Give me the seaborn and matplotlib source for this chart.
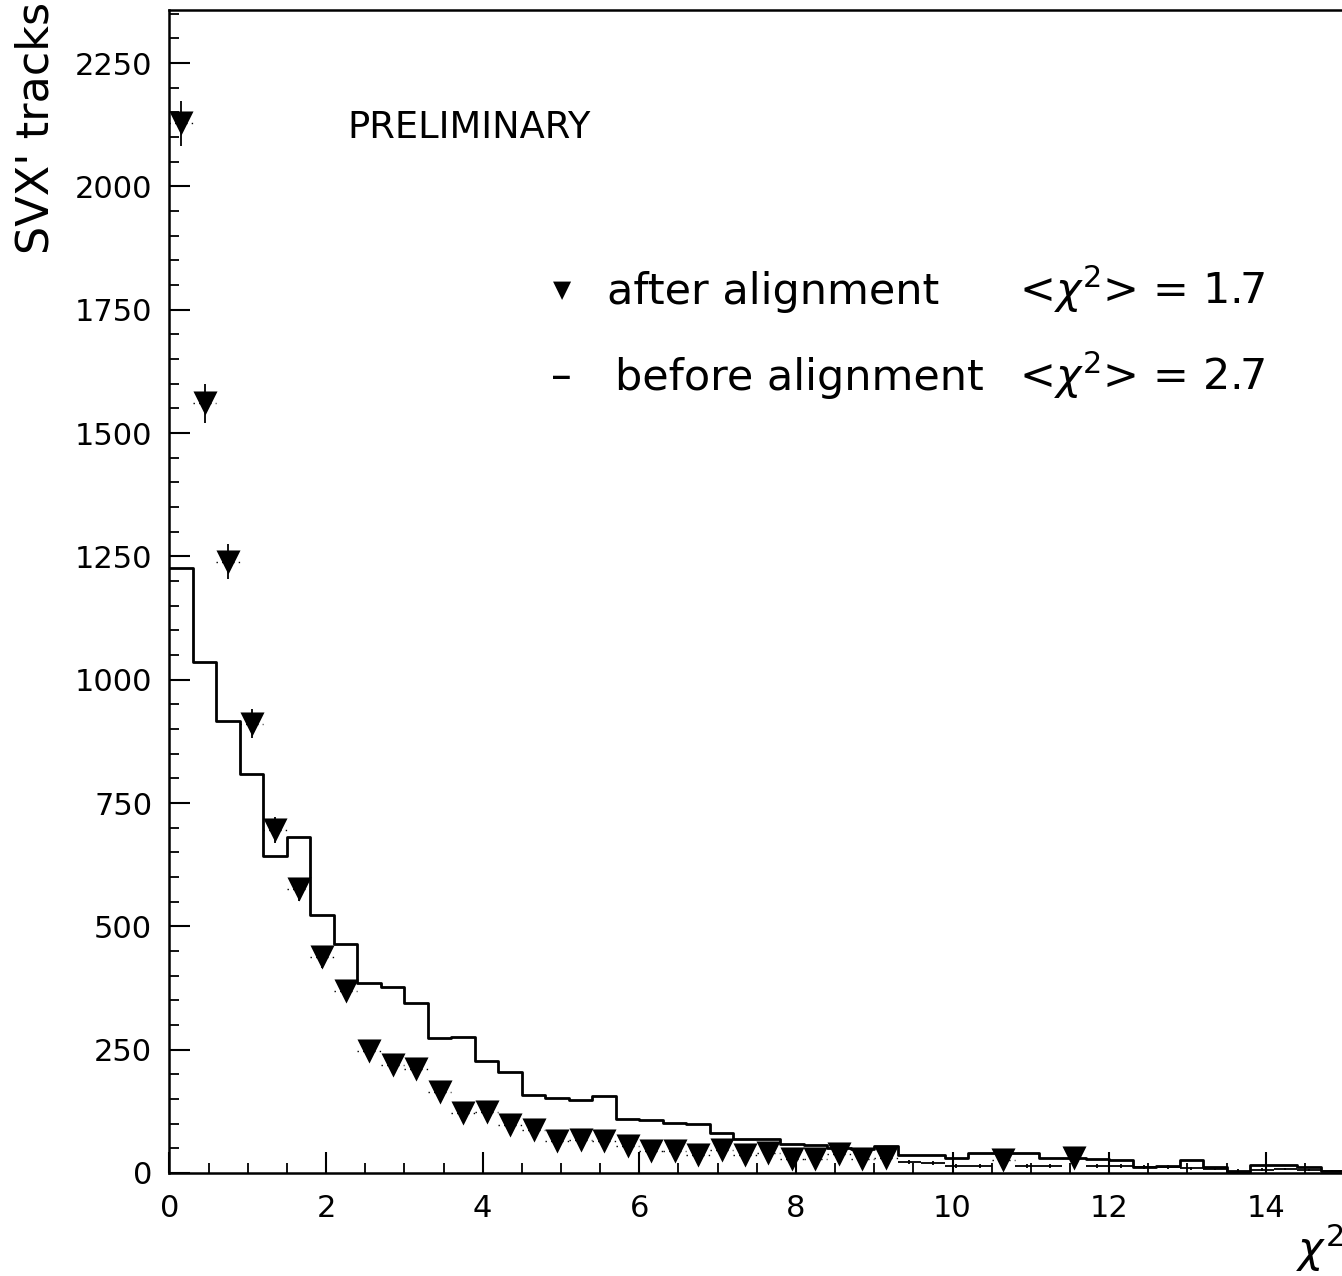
import numpy as np
import pandas as pd
import matplotlib
matplotlib.use("Agg")
import matplotlib.pyplot as plt
import seaborn as sns
from matplotlib.ticker import MultipleLocator

# ---------------- data ----------------
bin_edges = np.linspace(0.0, 15.0, 51)          # 50 bins of width 0.3
bin_centers = 0.5 * (bin_edges[:-1] + bin_edges[1:])

before_counts = [1227, 1035, 916, 809, 643, 682, 522, 464, 385, 378,
                 344, 274, 276, 228, 205, 159, 152, 148, 156, 110,
                 108, 101, 99, 81, 68, 68, 58, 57, 50, 48,
                 54, 37, 37, 30, 40, 40, 40, 30, 30, 28,
                 27, 12, 15, 26, 12, 3, 17, 17, 12, 5]

after_counts = [2128, 1560, 1239, 911, 695, 575, 437, 369, 248, 219,
                211, 165, 121, 123, 97, 87, 65, 67, 65, 55,
                45, 44, 36, 46, 37, 40, 29, 28, 38, 28,
                30, 22, 20, 15, 15, 26, 15, 14, 30, 15,
                15, 12, 12, 10, 8, 5, 7, 8, 6, 4]

# bins where the "after" point is drawn with a triangle marker
triangle_bins = list(range(31)) + [35, 38]

x_ticks = [0, 2, 4, 6, 8, 10, 12, 14]
y_ticks = [0, 250, 500, 750, 1000, 1250, 1500, 1750, 2000, 2250]

# ---------------- style ----------------
sns.set_theme(style="ticks")
plt.rcParams["font.family"] = ["DejaVu Sans"]
plt.rcParams["mathtext.fontset"] = "dejavusans"

W, H = 1342, 1276
fig = plt.figure(figsize=(W / 100, H / 100), dpi=100)
fig.patch.set_facecolor("white")

left_px, right_px, top_px, bottom_px = 169.5, 1342, 10, 1173
ax = fig.add_axes([left_px / W, 1 - bottom_px / H,
                   (right_px - left_px) / W, (bottom_px - top_px) / H])
ax.set_facecolor("white")

# before alignment: step histogram
df_before = pd.DataFrame({"chi2": bin_centers,
                          "count": np.asarray(before_counts, dtype=float)})
sns.histplot(data=df_before, x="chi2", weights="count",
             bins=[float(e) for e in bin_edges],
             element="step", fill=False, color="black", linewidth=2.0, ax=ax)

# after alignment: error bars + triangles
after = np.asarray(after_counts, dtype=float)
tb = np.asarray(triangle_bins)
is_tri = np.zeros(len(after), dtype=bool)
is_tri[tb] = True

# vertical (statistical) error bars for all points
ax.errorbar(bin_centers, after, yerr=np.sqrt(after), fmt="none",
            ecolor="black", elinewidth=1.3, capsize=0, zorder=2)
# horizontal bin-width bars: solid where no marker, dotted beside markers
ax.errorbar(bin_centers[~is_tri], after[~is_tri], xerr=0.15,
            fmt="none", ecolor="black", elinewidth=1.3, capsize=0, zorder=2)
eb2 = ax.errorbar(bin_centers[is_tri], after[is_tri], xerr=0.15,
                  fmt="none", ecolor="black", elinewidth=1.0, capsize=0,
                  zorder=2)
for lc in eb2[2]:
    lc.set_linestyle((0, (1, 3)))

df_after = pd.DataFrame({"chi2": bin_centers[tb], "count": after[tb]})
sns.scatterplot(data=df_after, x="chi2", y="count", marker="v", s=300,
                color="black", linewidth=0, legend=False, ax=ax, zorder=3)

ax.set_xlim(0, (right_px - left_px) / 78.3)
ax.set_ylim(0, (bottom_px - top_px) / 0.4933)

ax.set_xticks(x_ticks)
ax.set_xticklabels([str(t) for t in x_ticks])
ax.set_yticks(y_ticks)
ax.set_yticklabels([str(t) for t in y_ticks])
ax.xaxis.set_minor_locator(MultipleLocator(0.5))
ax.yaxis.set_minor_locator(MultipleLocator(50))

ax.tick_params(axis="both", which="major", direction="in", length=15,
               width=1.5, color="black", labelcolor="black")
ax.tick_params(axis="both", which="minor", direction="in", length=7,
               width=1.3, color="black")
ax.tick_params(axis="x", which="major", labelsize=22, pad=15)
ax.tick_params(axis="y", which="major", labelsize=22, pad=12.5)
ax.tick_params(top=False, right=False, which="both")

for side in ["left", "bottom", "top"]:
    ax.spines[side].set_color("black")
    ax.spines[side].set_linewidth(1.8)
ax.spines["right"].set_visible(False)
ax.set_xlabel("")
ax.set_ylabel("")

# ---------------- texts ----------------
def fx(px):
    return px / W

def fy(py):
    return 1 - py / H

fig.text(fx(36), fy(128), "SVX' tracks", rotation=90, fontsize=32,
         ha="center", va="center", color="black")
fig.text(fx(1296), fy(1248), r"$\chi^2$", fontsize=31, ha="left",
         va="center", color="black")
fig.text(fx(347), fy(128), "PRELIMINARY", fontsize=26.5, ha="left",
         va="center", color="black")

# legend-like annotation
fig.text(fx(562), fy(290), "\u25BC", fontsize=17, ha="center", va="center",
         color="black")
fig.text(fx(607), fy(304), "after alignment", fontsize=31, ha="left",
         va="baseline", color="black")
fig.text(fx(1265), fy(304), r"<$\chi^2$> = 1.7", fontsize=31, ha="right",
         va="baseline", color="black")

fig.text(fx(561), fy(377), "\u2013", fontsize=30, ha="center", va="center",
         color="black")
fig.text(fx(615), fy(390), "before alignment", fontsize=31, ha="left",
         va="baseline", color="black")
fig.text(fx(1265), fy(390), r"<$\chi^2$> = 2.7", fontsize=31, ha="right",
         va="baseline", color="black")

fig.savefig("out.png", dpi=100, facecolor="white")
